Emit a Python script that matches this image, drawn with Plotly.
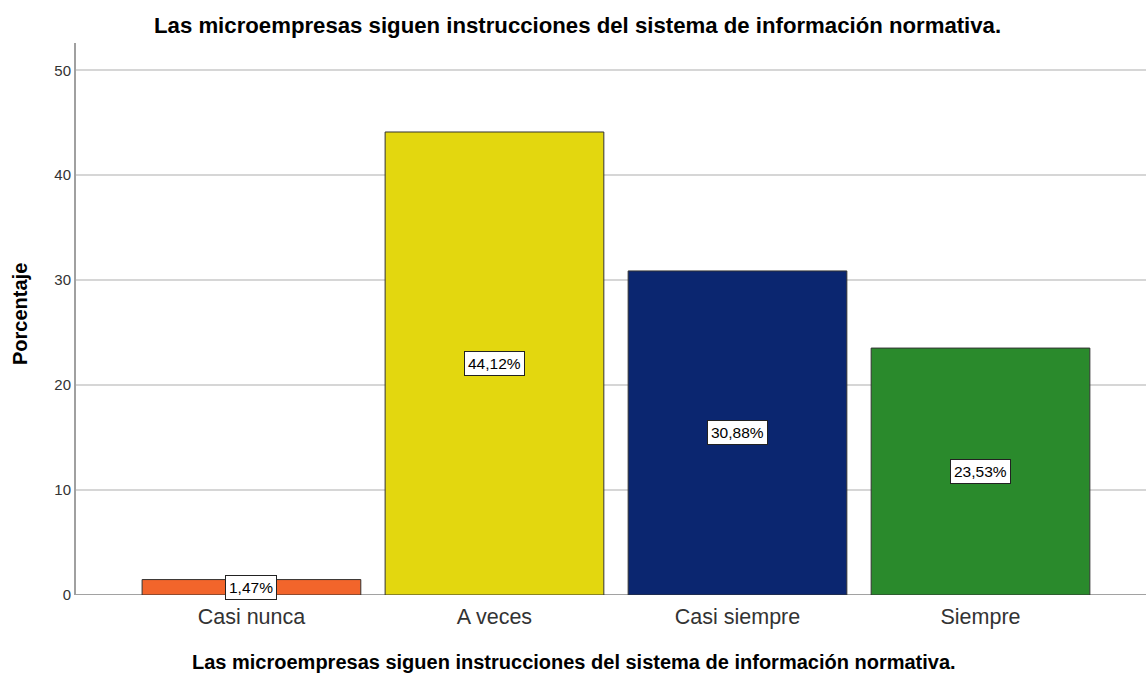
import plotly.graph_objects as go

categories = ["Casi nunca", "A veces", "Casi siempre", "Siempre"]
values = [1.47, 44.12, 30.88, 23.53]
labels = ["1,47%", "44,12%", "30,88%", "23,53%"]
colors = ["#F2652B", "#E3D70F", "#0B2670", "#2A8A2C"]

FONT = "Arial, Liberation Sans"
TITLE = "<b>Las microempresas siguen instrucciones del sistema de información normativa.</b>"

fig = go.Figure()
fig.add_trace(go.Bar(
    x=list(range(len(categories))), y=values, width=0.9,
    marker=dict(color=colors, line=dict(color="#333333", width=1)),
    hoverinfo="skip"
))
for i, (v, t) in enumerate(zip(values, labels)):
    fig.add_annotation(x=i, y=v / 2, text=t, showarrow=False,
                       bgcolor="white", bordercolor="#222222", borderwidth=1,
                       borderpad=3, font=dict(family=FONT, size=15.5, color="black"))

# titles
fig.add_annotation(xref="paper", yref="paper", x=0.5, y=1, yshift=18,
                   text=TITLE, showarrow=False, xanchor="center", yanchor="middle",
                   xshift=-34,
                   font=dict(family=FONT, size=22.2, color="black"))
fig.add_annotation(xref="paper", yref="paper", x=0.5, y=0, yshift=-67,
                   text=TITLE, showarrow=False, xanchor="center", yanchor="middle",
                   xshift=-37,
                   font=dict(family=FONT, size=20, color="black"))
fig.add_annotation(xref="paper", yref="paper", x=0, y=0.5, xshift=-56, yshift=5,
                   text="<b>Porcentaje</b>", showarrow=False, textangle=-90,
                   xanchor="center", yanchor="middle",
                   font=dict(family=FONT, size=20, color="black"))

fig.update_layout(
    width=1146, height=673,
    margin=dict(l=76, r=0, t=43, b=78, autoexpand=False),
    paper_bgcolor="white", plot_bgcolor="white",
    showlegend=False,
    xaxis=dict(range=[-0.722, 3.681], tickmode="array", automargin=False,
               tickvals=list(range(len(categories))), ticktext=categories,
               showgrid=False, zeroline=False, showline=False, ticks="",
               ticklabelstandoff=6,
               tickfont=dict(family=FONT, size=21.5, color="#333333")),
    yaxis=dict(range=[0, 52.6], tickvals=[0, 10, 20, 30, 40, 50], automargin=False,
               showgrid=True, gridcolor="#D6D6D6", gridwidth=2,
               zeroline=False, showline=True, linecolor="#A0A0A0", linewidth=2,
               ticks="", tickfont=dict(family=FONT, size=15, color="#333333")),
)
fig.add_shape(type="line", xref="paper", yref="y", x0=0, x1=1, y0=0, y1=0,
              line=dict(color="#444444", width=1), layer="below")
fig.write_html("out.html", config={"displayModeBar": False},
               post_script="document.body.style.margin='0px';")
